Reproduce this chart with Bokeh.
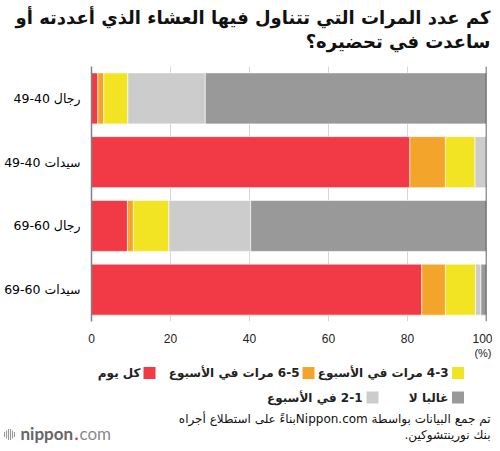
from bokeh.plotting import figure
from bokeh.models import ColumnDataSource, FactorRange, Range1d, Span
from bokeh.layouts import column
from bokeh.embed import file_html
from bokeh.resources import INLINE
from bokeh.core.properties import value

RLE, PDF, RLM = "\u202b", "\u202c", "\u200f"


def rtl(s):
    return RLE + s.replace("-", RLM + "-") + PDF


# ---------------- data ----------------
groups = ["رجال 40-49", "سيدات 40-49", "رجال 60-69", "سيدات 60-69"]
series = ["كل يوم", "5-6 مرات في الأسبوع", "3-4 مرات في الأسبوع", "1-2 في الأسبوع", "غالبا لا"]
colors = ["#f23a46", "#f3a42a", "#f2e423", "#cccccc", "#999999"]
every_day = [1.6, 80.6, 9.1, 83.6]
five_six = [1.5, 9.0, 1.5, 6.0]
three_four = [6.1, 7.5, 9.0, 7.6]
one_two = [19.6, 2.9, 20.7, 1.4]
rarely = [71.2, 0.0, 59.7, 1.4]
x_ticks = [0, 20, 40, 60, 80, 100]
title_lines = ["كم عدد المرات التي تتناول فيها العشاء الذي أعددته أو", "ساعدت في تحضيره؟"]
source_lines = ["تم جمع البيانات بواسطة Nippon.comبناءً على استطلاع أجراه", "بنك نورينتشوكين."]
unit_label = "(%)"

AR = value("DejaVu Sans")
W = 492


def blank(height):
    f = figure(width=W, height=height, x_range=Range1d(0, W), y_range=Range1d(0, height),
               output_backend="svg", toolbar_location=None, min_border=0,
               x_axis_location=None, y_axis_location=None)
    f.grid.visible = False
    f.outline_line_color = None
    f.frame_align = False
    return f


# ---------------- title ----------------
HT = 58
t = blank(HT)
t.text(x=[490, 490], y=[HT - 17, HT - 41], text=[rtl(s) for s in title_lines],
       text_align="right", text_baseline="middle", text_font=AR, text_font_style="bold",
       text_font_size="18px", text_color="#111111")

# ---------------- main chart ----------------
labels = [rtl(g) for g in groups]
keys = ["s%d" % i for i in range(len(series))]
src = ColumnDataSource(dict(group=labels, s0=every_day, s1=five_six, s2=three_four,
                            s3=one_two, s4=rarely))

H1 = 287
p = figure(width=W, height=H1, y_range=FactorRange(factors=labels[::-1]),
           x_range=Range1d(0, 100), output_backend="svg", toolbar_location=None,
           min_border_left=91, min_border_right=6, min_border_top=8, min_border_bottom=23)
p.hbar_stack(keys, y="group", height=0.8, fill_color=colors, line_color="white",
             line_width=0.6, source=src)

p.outline_line_color = None
p.background_fill_color = "white"
p.ygrid.grid_line_color = None
p.xgrid.ticker = x_ticks
p.xgrid.grid_line_color = "#d6d6d6"
p.xgrid.grid_line_width = 1

p.xaxis.ticker = x_ticks
p.xaxis.axis_line_color = None
p.xaxis.major_tick_line_color = None
p.xaxis.minor_tick_line_color = None
p.xaxis.major_label_standoff = 6
p.xaxis.major_label_text_font = "Liberation Sans"
p.xaxis.major_label_text_font_size = "12px"
p.xaxis.major_label_text_color = "#222222"

p.yaxis.axis_line_color = "#808080"
p.yaxis.axis_line_width = 1.5
p.yaxis.major_tick_line_color = None
p.yaxis.minor_tick_line_color = None
p.yaxis.major_label_standoff = 5
p.yaxis.major_label_text_font = "DejaVu Sans"
p.yaxis.major_label_text_font_size = "12.5px"
p.yaxis.major_label_text_color = "#000000"

p.add_layout(Span(location=100, dimension="height", line_color="#333333", line_width=1.5))

# ---------------- unit / legend / source / logo ----------------
H2 = 98
q = blank(H2)

q.text(x=[491], y=[H2 - 7], text=[unit_label], text_align="right", text_baseline="middle",
       text_font=value("Liberation Sans"), text_font_size="11px", text_color="#222222")

sq_x = [149, 308, 457.5, 372, 457.5]
sq_y = [70.5, 70.5, 70.5, 46, 46]
tx_x = [140, 299, 448, 362, 448]
leg = ColumnDataSource(dict(sx=sq_x, sy=sq_y, tx=tx_x, color=colors,
                            label=[rtl(s) for s in series]))
q.rect(x="sx", y="sy", width=12, height=12, width_units="screen", height_units="screen",
       fill_color="color", line_color=None, source=leg)
q.text(x="tx", y="sy", text="label", source=leg, text_align="right", text_baseline="middle",
       text_font=AR, text_font_style="bold", text_font_size="12px", text_color="#222222")

q.text(x=[490, 490], y=[25, 9], text=[rtl(s) for s in source_lines], text_align="right",
       text_baseline="middle", text_font=AR, text_font_size="12px", text_color="#111111")

# logo
q.segment(x0=[4, 6, 8, 10, 12, 14], x1=[4, 6, 8, 10, 12, 14],
          y0=[6.5, 5, 3.5, 3.5, 5, 6.5], y1=[11.5, 13, 14.5, 14.5, 13, 11.5],
          line_color="#9a9a9a", line_width=1.1)
q.text(x=[20], y=[10], text=["nippon"], text_align="left", text_baseline="middle",
       text_font=value("Lato"), text_font_style="bold", text_font_size="17px", text_color="#666666")
q.text(x=[74], y=[10], text=["."], text_align="left", text_baseline="middle",
       text_font=value("Lato"), text_font_style="bold", text_font_size="17px", text_color="#e8343f")
q.text(x=[79], y=[10], text=["com"], text_align="left", text_baseline="middle",
       text_font=value("Lato"), text_font_size="17px", text_color="#8a8a8a")

layout = column(t, p, q, spacing=0)
open("out.html", "w").write(file_html(layout, INLINE))
